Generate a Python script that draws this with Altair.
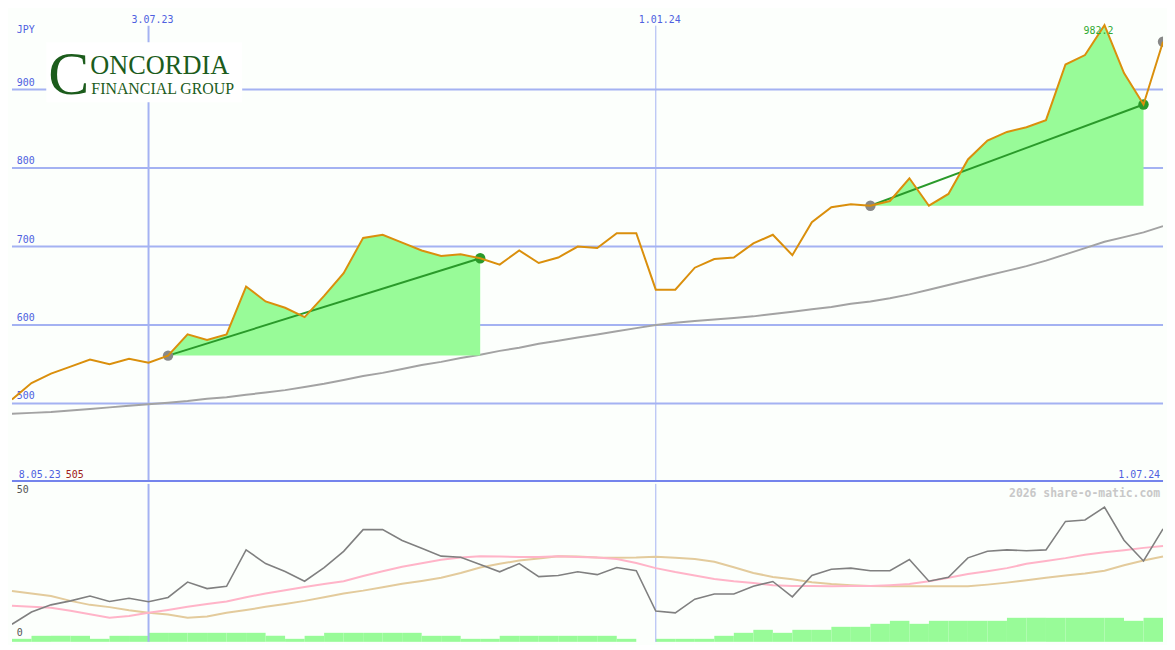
import altair as alt
import pandas as pd

# ---------------- data ----------------
dates = [d.strftime("%Y-%m-%d") for d in pd.date_range("2023-05-15", periods=60, freq="7D")]

price = [505, 526, 538, 547, 556, 550, 557, 552, 561, 588,
         581, 588, 649, 630, 622, 610, 637, 666, 711, 715,
         705, 695, 688, 690, 685, 677, 695, 679, 686, 700,
         698, 717, 717, 645, 645, 673, 684, 686, 704, 715,
         689, 731, 750, 754, 752, 758, 787, 752, 767, 811,
         835, 846, 852, 861, 932, 944, 982.2, 921, 881, 961]

ma_line = [487, 488, 489, 491, 493, 495, 497, 499, 501, 503,
           506, 508, 511, 514, 517, 521, 525, 530, 535, 539,
           544, 549, 553, 558, 562, 567, 571, 576, 580, 584,
           588, 592, 596, 600, 603, 605, 607, 609, 611, 614,
           617, 620, 623, 627, 630, 634, 639, 645, 651, 657,
           663, 669, 675, 682, 690, 698, 706, 712, 718, 726]

osc_gray = [5.5, 9.8, 12.3, 13.7, 15.4, 13.5, 14.6, 13.4, 14.9, 20.3,
            18.0, 18.8, 31.6, 26.8, 24.0, 20.6, 25.4, 31.1, 38.7, 38.7,
            34.9, 32.2, 29.4, 29.0, 26.5, 23.9, 26.8, 22.2, 22.6, 23.9,
            22.9, 25.4, 24.3, 10.1, 9.5, 14.3, 16.1, 16.1, 18.8, 20.5,
            15.1, 22.6, 24.8, 25.2, 24.3, 24.3, 28.2, 20.6, 22.0, 28.8,
            31.1, 31.6, 31.3, 31.6, 41.6, 42.1, 46.6, 35.0, 27.7, 39.0]

osc_pink = [12.0, 11.6, 11.3, 10.2, 9.0, 7.8, 8.4, 9.5, 10.5, 11.6,
            12.6, 13.5, 15.0, 16.3, 17.4, 18.6, 19.6, 20.6, 22.4, 24.1,
            25.7, 26.9, 28.1, 28.9, 29.4, 29.3, 29.1, 29.1, 29.4, 29.1,
            28.9, 28.4, 27.0, 25.2, 23.8, 22.6, 21.4, 20.6, 20.0, 19.2,
            18.9, 18.9, 18.8, 18.9, 18.9, 19.2, 19.6, 20.6, 21.8, 23.1,
            24.1, 25.2, 26.7, 27.7, 28.7, 29.9, 30.8, 31.5, 32.3, 33.0]

osc_tan = [17.2, 16.3, 15.4, 13.7, 12.3, 11.5, 10.4, 9.5, 8.9, 7.8,
           8.2, 9.5, 10.5, 11.6, 12.6, 13.7, 15.0, 16.3, 17.3, 18.5,
           19.7, 20.7, 21.8, 23.5, 25.4, 26.7, 27.9, 28.6, 29.4, 29.3,
           28.9, 28.8, 28.9, 29.2, 28.8, 28.4, 27.4, 25.5, 23.5, 22.1,
           21.3, 20.2, 19.6, 19.2, 18.9, 18.8, 18.8, 18.8, 18.8, 18.8,
           19.4, 20.1, 20.9, 21.8, 22.6, 23.3, 24.3, 26.2, 27.9, 29.3]

volume = [1, 2, 2, 2, 1, 2, 2, 3, 3, 3, 3, 3, 3, 2, 1, 2, 3, 3, 3, 3,
          3, 2, 2, 1, 1, 2, 2, 2, 2, 2, 2, 1, 0, 1, 1, 1, 2, 3, 4, 3,
          4, 4, 5, 5, 6, 7, 6, 7, 7, 7, 7, 8, 8, 8, 8, 8, 8, 7, 8]

price_ticks = [500, 600, 700, 800, 900]
lower_ticks = [0, 50]
month_dates = ["2023-07-03", "2024-01-01"]
month_labels = ["3.07.23", "1.01.24"]
trend_segments = [(8, 24), (44, 58)]
currency = "JPY"
start_label, start_value, end_label = "8.05.23", "505", "1.07.24"
credit = "2026 share-o-matic.com"

# ---------------- layout / style ----------------
W, H = 1159, 634
SX, SY = W / 1175, H / 650
H1 = round(487 * SY)
H2 = H - H1

BG = "#FCFFFC"
GRID = "#A4B2F2"
BOUND = "#7484EC"
LAB = "#4F5FE0"
ORANGE = "#DA8F0C"
MA_C = "#A3A3A3"
FILL = "#98FB98"
TGREEN = "#2A9A2A"
DOT_GRAY = "#888888"
OSC_C = "#808080"
PINK = "#FFB4C8"
TAN = "#E3CB9C"
LOGO = "#1C5C1C"
MONO = "DejaVu Sans Mono"
SERIF = "Liberation Serif"

xs = alt.Scale(type="utc", domain=[alt.DateTime(year=2023, month=5, date=15, utc=True),
                                   alt.DateTime(year=2024, month=7, date=1, utc=True)])
ys1 = alt.Scale(domain=[400, 1001.2], nice=False, zero=False)
ys2 = alt.Scale(domain=[-0.68, 54.76], nice=False, zero=False)
vs = alt.Scale(domain=[0, 52.6], nice=False, zero=False)


def X(field="date"):
    return alt.X(f"{field}:T", scale=xs, axis=None)


def Y1(field):
    return alt.Y(f"{field}:Q", scale=ys1, axis=None)


def Y2(field):
    return alt.Y(f"{field}:Q", scale=ys2, axis=None)


def label(text, x, y, **kw):
    return alt.Chart(pd.DataFrame({"t": [text]})).mark_text(baseline="alphabetic", **kw).encode(
        x=alt.value(x), y=alt.value(y), text="t:N")


df = pd.DataFrame({"date": dates, "price": price, "ma": ma_line,
                   "osc": osc_gray, "pink": osc_pink, "tan": osc_tan})

rows = []
for i, (s, e) in enumerate(trend_segments):
    for k in range(s, e + 1):
        rows.append({"seg": i, "date": dates[k], "price": price[k], "base": price[s]})
trend_df = pd.DataFrame(rows)
ends_df = pd.DataFrame([{"seg": i, "date": dates[k], "price": price[k]}
                        for i, (s, e) in enumerate(trend_segments) for k in (s, e)])
gray_dots = pd.DataFrame([{"date": dates[k], "price": price[k]}
                          for k in [s for s, _ in trend_segments] + [len(price) - 1]])
green_dots = pd.DataFrame([{"date": dates[e], "price": price[e]} for _, e in trend_segments])
imax = price.index(max(price))
max_df = pd.DataFrame({"date": [dates[imax]], "price": [price[imax]]})

ticks_df = pd.DataFrame({"v": price_ticks, "lab": [str(t) for t in price_ticks]})
lticks_df = pd.DataFrame({"v": lower_ticks, "lab": [str(t) for t in lower_ticks]})
months_df = pd.DataFrame({"date": month_dates, "lab": month_labels})
vol_df = pd.DataFrame({"date": dates[:-1], "date_end": dates[1:], "vol": volume})

month_width = alt.condition(f"datum.lab == '{month_labels[0]}'", alt.value(2), alt.value(1))

# ---------------- upper panel ----------------
grid = alt.Chart(ticks_df).mark_rule(color=GRID, strokeWidth=2).encode(y=Y1("v"))
grid_lab = alt.Chart(ticks_df).mark_text(align="left", baseline="bottom", dy=-2, font=MONO,
                                         fontSize=10, color=LAB).encode(
    x=alt.value(5 * SX), y=Y1("v"), text="lab:N")
vlines = alt.Chart(months_df).mark_rule(color=GRID).encode(
    x=X(), y=alt.value(16 * SY), y2=alt.value(H1), strokeWidth=month_width)
month_lab = alt.Chart(months_df).mark_text(font=MONO, fontSize=10, color=LAB, dx=4,
                                           baseline="alphabetic").encode(
    x=X(), y=alt.value(13 * SY), text="lab:N")
ma = alt.Chart(df).mark_line(color=MA_C, strokeWidth=2, clip=True).encode(x=X(), y=Y1("ma"))
area = alt.Chart(trend_df).mark_area(color=FILL, opacity=1).encode(
    x=X(), y=Y1("price"), y2="base:Q", detail="seg:N")
tline = alt.Chart(ends_df).mark_line(color=TGREEN, strokeWidth=2).encode(
    x=X(), y=Y1("price"), detail="seg:N")
gdots = alt.Chart(gray_dots).mark_circle(color=DOT_GRAY, size=110, opacity=1, clip=True).encode(
    x=X(), y=Y1("price"))
grdots = alt.Chart(green_dots).mark_circle(color=TGREEN, size=110, opacity=1, clip=True).encode(
    x=X(), y=Y1("price"))
pline = alt.Chart(df).mark_line(color=ORANGE, strokeWidth=2, clip=True).encode(x=X(), y=Y1("price"))
max_lab = alt.Chart(max_df).mark_text(font=MONO, fontSize=10, color="#33AA33", dx=-6, dy=9,
                                      baseline="alphabetic").encode(
    x=X(), y=Y1("price"), text=alt.Text("price:Q", format=".1f"))
boundary = alt.Chart(pd.DataFrame({"a": [0]})).mark_rule(color=BOUND, strokeWidth=2).encode(
    x=alt.value(0), x2=alt.value(W), y=alt.value(H1 - 1))

logo_bg = alt.Chart(pd.DataFrame({"a": [0]})).mark_rect(color="white").encode(
    x=alt.value(35 * SX), x2=alt.value(235 * SX), y=alt.value(33 * SY), y2=alt.value(95 * SY))
logo_c = label("C", 37 * SX, 87 * SY, align="left", font=SERIF, fontSize=62, color=LOGO)
logo_1 = label("ONCORDIA", 80 * SX, 65.5 * SY, align="left", font=SERIF, fontSize=26.5, color=LOGO)
logo_2 = label("FINANCIAL GROUP", 81 * SX, 86.5 * SY, align="left", font=SERIF, fontSize=16, color=LOGO)

jpy = label(currency, 5 * SX, 24 * SY, align="left", font=MONO, fontSize=10, color=LAB)
lab_start = label(start_label, 7 * SX, 483 * SY, align="left", font=MONO, fontSize=10, color=LAB)
lab_val = label(start_value, 55 * SX, 483 * SY, align="left", font=MONO, fontSize=10, color="#A02020")
lab_end = label(end_label, 1172 * SX, 483 * SY, align="right", font=MONO, fontSize=10, color=LAB)

upper = alt.layer(grid, grid_lab, vlines, month_lab, ma, area, tline, gdots, grdots, pline,
                  max_lab, boundary, logo_bg, logo_c, logo_1, logo_2, jpy, lab_start, lab_val,
                  lab_end).properties(width=W, height=H1)

# ---------------- lower panel ----------------
bars = alt.Chart(vol_df).mark_rect(color=FILL).encode(
    x=X(), x2="date_end:T", y=alt.Y("vol:Q", scale=vs, axis=None), y2=alt.datum(0))
vlines2 = alt.Chart(months_df).mark_rule(color=GRID).encode(x=X(), strokeWidth=month_width)
tan = alt.Chart(df).mark_line(color=TAN, strokeWidth=2).encode(x=X(), y=Y2("tan"))
pink = alt.Chart(df).mark_line(color=PINK, strokeWidth=2).encode(x=X(), y=Y2("pink"))
osc = alt.Chart(df).mark_line(color=OSC_C, strokeWidth=1.6, clip=True).encode(x=X(), y=Y2("osc"))
low_lab = alt.Chart(lticks_df).mark_text(align="left", baseline="bottom", dy=-2, font=MONO,
                                         fontSize=10, color="#555555").encode(
    x=alt.value(5 * SX), y=Y2("v"), text="lab:N")
credit_lab = label(credit, 1172 * SX, (500 - 487) * SY, align="right", font=MONO, fontSize=11.5,
                   fontWeight="bold", color="#C8C8C8")

lower = alt.layer(bars, vlines2, tan, pink, osc, low_lab, credit_lab).resolve_scale(
    y="independent").properties(width=W, height=H2)

chart = alt.vconcat(upper, lower, spacing=0).properties(
    padding=0, background=BG).configure_view(stroke=None)

chart.save("out.html", embed_options={"renderer": "svg", "actions": False})
